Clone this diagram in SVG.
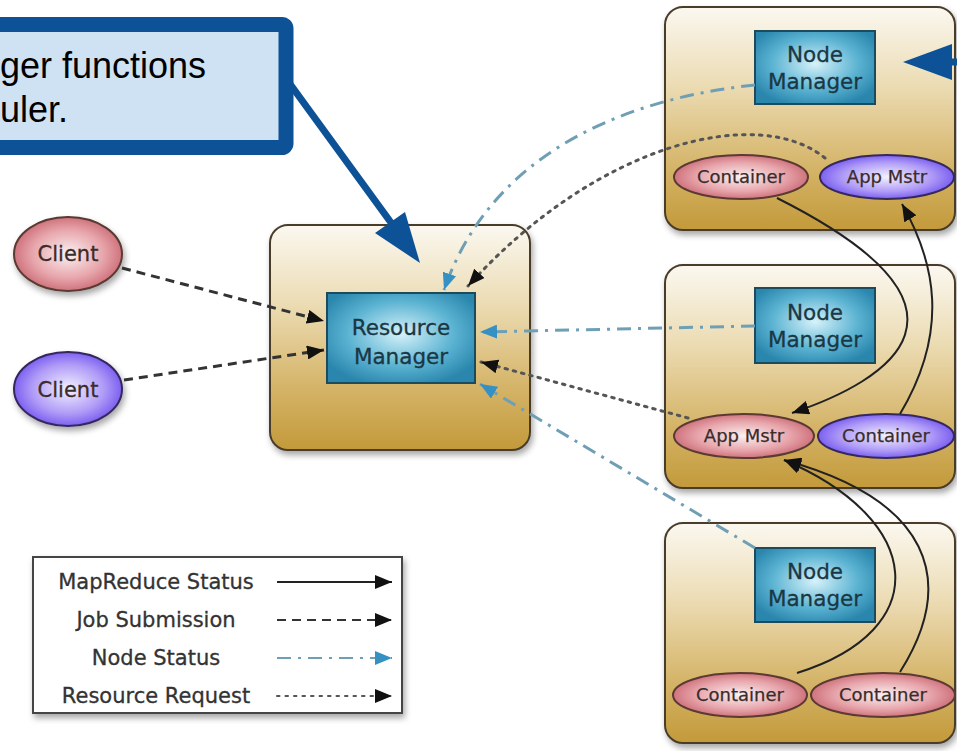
<svg xmlns="http://www.w3.org/2000/svg" width="957" height="751" viewBox="0 0 957 751">
<defs>
  <linearGradient id="tan" x1="0" y1="0" x2="0" y2="1">
    <stop offset="0" stop-color="#fbf8f0"/>
    <stop offset="0.35" stop-color="#ecdcb4"/>
    <stop offset="0.7" stop-color="#d6b66c"/>
    <stop offset="1" stop-color="#c39a3a"/>
  </linearGradient>
  <radialGradient id="teal" cx="0.5" cy="0.45" r="0.6">
    <stop offset="0" stop-color="#d6f2fa"/>
    <stop offset="0.6" stop-color="#5bb3d2"/>
    <stop offset="1" stop-color="#2a86ad"/>
  </radialGradient>
  <radialGradient id="pink" cx="0.5" cy="0.5" r="0.55">
    <stop offset="0" stop-color="#fbf1f2"/>
    <stop offset="0.6" stop-color="#e7a5ab"/>
    <stop offset="1" stop-color="#c86470"/>
  </radialGradient>
  <radialGradient id="purple" cx="0.5" cy="0.5" r="0.55">
    <stop offset="0" stop-color="#f4f1ff"/>
    <stop offset="0.6" stop-color="#b09cf7"/>
    <stop offset="1" stop-color="#6d4fee"/>
  </radialGradient>
  <filter id="sh" x="-10%" y="-10%" width="125%" height="130%">
    <feDropShadow dx="2" dy="4" stdDeviation="3" flood-color="#000" flood-opacity="0.35"/>
  </filter>
  <marker id="ab" markerUnits="userSpaceOnUse" markerWidth="18" markerHeight="14" refX="17" refY="7" orient="auto">
    <path d="M0,0 L17,7 L0,14 Z" fill="#111" stroke="none"/>
  </marker>
  <marker id="au" markerUnits="userSpaceOnUse" markerWidth="18" markerHeight="14" refX="17" refY="7" orient="auto">
    <path d="M0,0 L17,7 L0,14 Z" fill="#3590c4" stroke="none"/>
  </marker>
</defs>
<style>
  .box { fill: url(#tan); stroke: #4a3e2c; stroke-width: 2; filter: url(#sh); }
  .nm { fill: url(#teal); stroke: #1d4b5e; stroke-width: 2; }
  .pk { fill: url(#pink); stroke: #5a3a32; stroke-width: 2; }
  .pu { fill: url(#purple); stroke: #35285e; stroke-width: 2; }
  .t { font-family: "DejaVu Sans", Verdana, sans-serif; text-anchor: middle; }
  .tn { font-size: 21.5px; fill: #1b3744; stroke: #1b3744; stroke-width: 0.3; }
  .te { font-size: 18px; fill: #3a2c2c; stroke: #3a2c2c; stroke-width: 0.25; }
  .tc { font-size: 21px; fill: #3a2c2c; stroke: #3a2c2c; stroke-width: 0.3; }
  .tl { font-size: 21px; fill: #333; stroke: #333; stroke-width: 0.3; }
  .solid { fill: none; stroke: #222; stroke-width: 2; }
  .dash { fill: none; stroke: #333; stroke-width: 3; stroke-dasharray: 9 6; }
  .ns { fill: none; stroke: #6f9fb5; stroke-width: 3; stroke-dasharray: 14 7 3 7; }
  .dot { fill: none; stroke: #555; stroke-width: 3; stroke-dasharray: 2.5 6; stroke-linecap: round; }
</style>

<!-- Resource Manager node -->
<g id="resource-manager">
  <rect class="box" x="270" y="225" width="260" height="225" rx="18"/>
  <rect class="nm" x="327" y="293" width="148" height="90"/>
  <text class="t tn" x="401" y="335">Resource</text>
  <text class="t tn" x="401" y="364">Manager</text>
</g>

<!-- Node 1 (top) -->
<g id="node1">
  <rect class="box" x="665" y="7" width="290" height="223" rx="18"/>
  <rect class="nm" x="755" y="31" width="120" height="73"/>
  <text class="t tn" x="815" y="62">Node</text>
  <text class="t tn" x="815" y="89">Manager</text>
</g>
<g id="node1-container">
  <ellipse class="pk" cx="741" cy="177" rx="67" ry="22"/>
  <text class="t te" x="741" y="183">Container</text>
</g>
<g id="node1-appmstr">
  <ellipse class="pu" cx="887" cy="177" rx="67" ry="22"/>
  <text class="t te" x="887" y="183">App Mstr</text>
</g>

<!-- Node 2 (middle) -->
<g id="node2">
  <rect class="box" x="665" y="265" width="290" height="223" rx="18"/>
  <rect class="nm" x="755" y="288" width="120" height="75"/>
  <text class="t tn" x="815" y="320">Node</text>
  <text class="t tn" x="815" y="347">Manager</text>
</g>
<g id="node2-appmstr">
  <ellipse class="pk" cx="744" cy="436" rx="70" ry="22"/>
  <text class="t te" x="744" y="442">App Mstr</text>
</g>
<g id="node2-container">
  <ellipse class="pu" cx="886" cy="436" rx="68" ry="22"/>
  <text class="t te" x="886" y="442">Container</text>
</g>

<!-- Node 3 (bottom) -->
<g id="node3">
  <rect class="box" x="665" y="523" width="290" height="220" rx="18"/>
  <rect class="nm" x="755" y="548" width="120" height="74"/>
  <text class="t tn" x="815" y="579">Node</text>
  <text class="t tn" x="815" y="606">Manager</text>
</g>
<g id="node3-container1">
  <ellipse class="pk" cx="740" cy="695" rx="67" ry="22"/>
  <text class="t te" x="740" y="701">Container</text>
</g>
<g id="node3-container2">
  <ellipse class="pk" cx="883" cy="695" rx="72" ry="22"/>
  <text class="t te" x="883" y="701">Container</text>
</g>

<!-- Clients -->
<g id="client1">
  <ellipse class="pk" cx="68" cy="254" rx="54" ry="37" filter="url(#sh)"/>
  <text class="t tc" x="68" y="261">Client</text>
</g>
<g id="client2">
  <ellipse class="pu" cx="68" cy="389" rx="54" ry="37" filter="url(#sh)"/>
  <text class="t tc" x="68" y="397">Client</text>
</g>

<!-- Connectors -->
<g id="connectors">
  <!-- Job submission -->
  <path class="dash" d="M122,268 L324,321" marker-end="url(#ab)"/>
  <path class="dash" d="M124,380 L324,350" marker-end="url(#ab)"/>
  <!-- Node status -->
  <path class="ns" d="M755,85 C630,98 492,150 444,290" marker-end="url(#au)"/>
  <path class="ns" d="M755,326 L480,332" marker-end="url(#au)"/>
  <path class="ns" d="M755,548 L480,384" marker-end="url(#au)"/>
  <!-- Resource request -->
  <path class="dot" d="M825,158 C760,105 600,140 468,286" marker-end="url(#ab)"/>
  <path class="dot" d="M688,418 L481,362" marker-end="url(#ab)"/>
  <!-- MapReduce status -->
  <path class="solid" d="M777,198 C1000,310 890,380 792,413" marker-end="url(#ab)"/>
  <path class="solid" d="M900,414 C950,330 935,262 902,204" marker-end="url(#ab)"/>
  <path class="solid" d="M797,673 C935,630 925,520 784,460" marker-end="url(#ab)"/>
  <path class="solid" d="M900,672 C958,580 930,500 784,460" marker-end="url(#ab)"/>
</g>

<!-- Legend -->
<g id="legend">
  <rect x="33" y="557" width="369" height="156" fill="#fff" stroke="#444" stroke-width="2" filter="url(#sh)"/>
  <text class="t tl" x="156" y="589">MapReduce Status</text>
  <text class="t tl" x="156" y="627">Job Submission</text>
  <text class="t tl" x="156" y="665">Node Status</text>
  <text class="t tl" x="156" y="703">Resource Request</text>
  <path class="solid" d="M277,582 L392,582" marker-end="url(#ab)"/>
  <path class="dash" d="M277,620 L392,620" marker-end="url(#ab)" style="stroke-width:2"/>
  <path class="ns" d="M277,658 L392,658" marker-end="url(#au)" style="stroke-width:2"/>
  <path class="dot" d="M277,696 L392,696" marker-end="url(#ab)" style="stroke-width:2"/>
</g>

<!-- Callout -->
<g id="callout">
  <line x1="290" y1="84" x2="392" y2="224" stroke="#0d5196" stroke-width="7"/>
  <polygon points="420,263 375,233 405,212" fill="#0d5196"/>
  <rect x="-20" y="24.5" width="306" height="123" rx="4" fill="#cfe2f3" stroke="#0d5196" stroke-width="15"/>
  <text x="0" y="78" font-family="'Liberation Sans', Arial, sans-serif" font-size="36" fill="#000">ger functions</text>
  <text x="0" y="122" font-family="'Liberation Sans', Arial, sans-serif" font-size="36" fill="#000">uler.</text>
</g>
<g id="pointer-arrow">
  <polygon points="903,62 952,44 952,80" fill="#0d5196"/>
  <rect x="950" y="58.5" width="10" height="7" fill="#0d5196"/>
</g>
</svg>
